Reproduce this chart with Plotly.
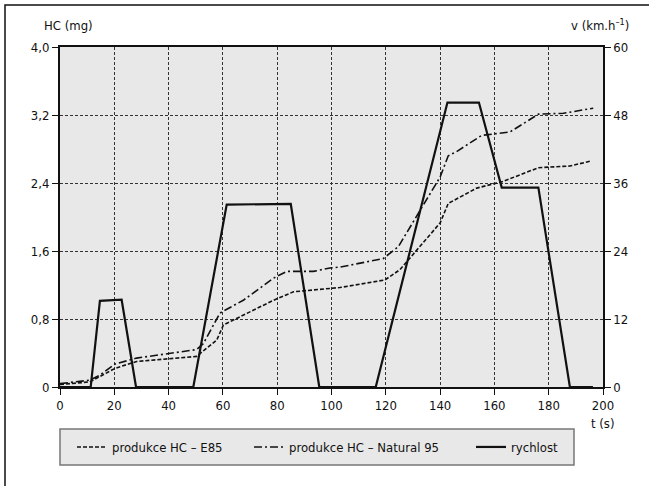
import plotly.graph_objects as go

# Speed (right axis, km/h)
t_speed = [0, 11.3, 14.7, 22.7, 28, 49.1, 61.4, 85, 95.5, 116.3, 142.7, 154.3, 162.7, 176.2, 187.8, 196.3]
v_speed = [0, 0, 15.2, 15.4, 0, 0, 32.2, 32.3, 0, 0, 50.2, 50.2, 35.2, 35.2, 0, 0]

# HC E85 (mg)
t_e85 = [0, 11, 20.3, 28.2, 50.3, 57.7, 60.2, 78.6, 86, 99.4, 103, 119.7, 125.2, 140, 143, 153.5, 163.3, 176.2, 187.8, 195.8]
hc_e85 = [0.03, 0.06, 0.22, 0.30, 0.36, 0.55, 0.73, 1.02, 1.12, 1.16, 1.17, 1.26, 1.38, 1.93, 2.16, 2.34, 2.42, 2.58, 2.60, 2.66]

# HC Natural 95 (mg)
t_n95 = [0, 11, 14.7, 20.3, 28.2, 50.3, 52.8, 58.9, 67.5, 78.6, 83.5, 93.3, 99.4, 103, 119, 124.6, 140, 143, 146.1, 155.3, 165.7, 176.2, 185.4, 196.4]
hc_n95 = [0.04, 0.08, 0.14, 0.27, 0.34, 0.44, 0.51, 0.87, 1.02, 1.28, 1.36, 1.36, 1.40, 1.41, 1.51, 1.65, 2.47, 2.72, 2.77, 2.96, 3.00, 3.21, 3.22, 3.28]

x_ticks = [0, 20, 40, 60, 80, 100, 120, 140, 160, 180, 200]
y_ticks = [0, 0.8, 1.6, 2.4, 3.2, 4.0]
y_ticktext = ["0", "0,8", "1,6", "2,4", "3,2", "4,0"]
y2_ticks = [0, 12, 24, 36, 48, 60]

names = ["produkce HC – E85", "produkce HC – Natural 95", "rychlost"]

FONT = "Liberation Sans Narrow, DejaVu Sans Condensed, Arial Narrow, sans-serif"

fig = go.Figure()
fig.add_trace(go.Scatter(x=t_e85, y=hc_e85, mode="lines", name=names[0],
                         line=dict(color="#111", width=1.6, dash="4px,2px"), legend="legend"))
fig.add_trace(go.Scatter(x=t_n95, y=hc_n95, mode="lines", name=names[1],
                         line=dict(color="#111", width=1.6, dash="8px,3px,2px,3px"), legend="legend2"))
fig.add_trace(go.Scatter(x=t_speed, y=v_speed, mode="lines", name=names[2], yaxis="y2",
                         line=dict(color="#111", width=2.2), legend="legend3"))

W, H = 649, 486
L, R, T, B = 60, 46, 47, 99
pw, ph = W - L - R, H - T - B

def px(x):
    return (x - L) / pw

def py(y):
    return (H - B - y) / ph

grid = dict(showgrid=True, gridcolor="#333", gridwidth=1, griddash="3px,2px")

fig.update_layout(
    width=W, height=H,
    margin=dict(l=L, r=R, t=T, b=B),
    paper_bgcolor="white", plot_bgcolor="#e8e8e8",
    font=dict(family=FONT, size=13, color="#111"),
    xaxis=dict(range=[0, 200], tickvals=x_ticks, ticks="outside", ticklen=6, tickcolor="#111",
               showline=True, linecolor="#111", linewidth=1.5, mirror=True, zeroline=False, **grid),
    yaxis=dict(range=[0, 4], tickvals=y_ticks, ticktext=y_ticktext, ticks="outside", ticklen=6,
               tickcolor="#111", showline=True, linecolor="#111", linewidth=2, zeroline=False, **grid),
    yaxis2=dict(range=[0, 60], tickvals=y2_ticks, overlaying="y", side="right", ticks="outside",
                ticklen=6, tickcolor="#111", showline=True, linecolor="#111", linewidth=1.5,
                showgrid=False, zeroline=False),
    showlegend=True,
)

leg_common = dict(orientation="h", yanchor="middle", y=py(447), xanchor="left",
                  bgcolor="rgba(0,0,0,0)", borderwidth=0, font=dict(family=FONT, size=13, color="#111"))
fig.update_layout(
    legend=dict(x=px(72), **leg_common),
    legend2=dict(x=px(249), **leg_common),
    legend3=dict(x=px(471), **leg_common),
)

shapes = [
    dict(type="rect", xref="paper", yref="paper", x0=px(60), x1=px(574), y0=py(465), y1=py(429),
         fillcolor="#e8e8e8", line=dict(color="#777", width=1.5), layer="below"),
    # outer frame (only top and left edges fall inside the picture)
    dict(type="rect", xref="paper", yref="paper", x0=px(5), x1=px(700), y0=py(600), y1=py(5),
         fillcolor="rgba(0,0,0,0)", line=dict(color="#111", width=1.5)),
]
fig.update_layout(shapes=shapes)

fig.add_annotation(x=px(42), y=py(25), xref="paper", yref="paper", text="HC (mg)", showarrow=False,
                   xanchor="left", yanchor="middle", font=dict(size=13))
fig.add_annotation(x=px(631), y=py(25), xref="paper", yref="paper", text="v (km.h<sup>–1</sup>)",
                   showarrow=False, xanchor="right", yanchor="middle", font=dict(size=13))
fig.add_annotation(x=px(603), y=py(423), xref="paper", yref="paper", text="t (s)", showarrow=False,
                   xanchor="center", yanchor="middle", font=dict(size=13))

fig.write_html("out.html", config={"displayModeBar": False})

# remove default page margin so the figure sits at the window origin
with open("out.html", encoding="utf-8") as f:
    html = f.read()
html = html.replace("<head>", "<head><style>html,body{margin:0;padding:0;overflow:hidden;}</style>", 1)
with open("out.html", "w", encoding="utf-8") as f:
    f.write(html)
